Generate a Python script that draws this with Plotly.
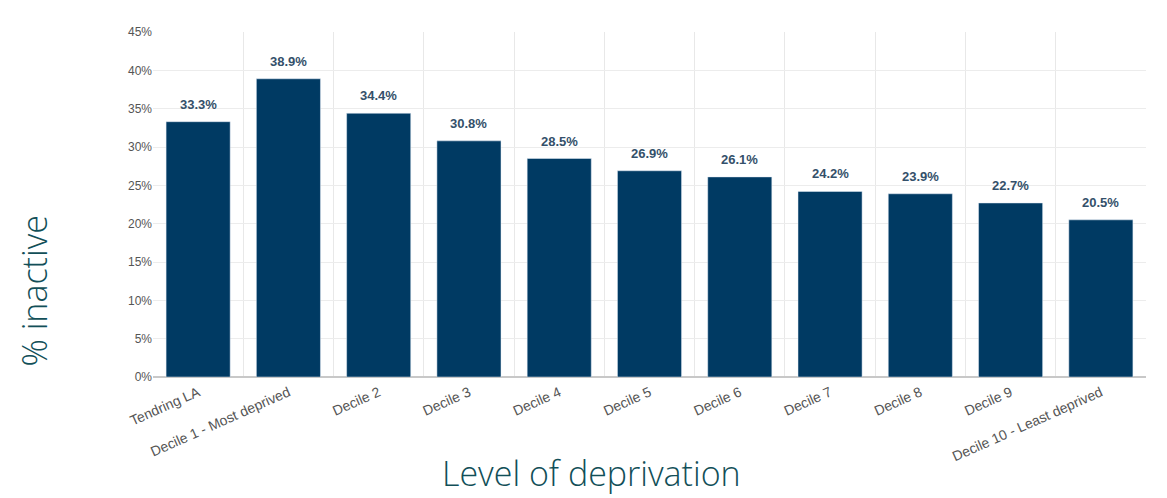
import plotly.graph_objects as go

# Economic inactivity by deprivation decile
categories = [
    "Tendring LA",
    "Decile 1 - Most deprived",
    "Decile 2",
    "Decile 3",
    "Decile 4",
    "Decile 5",
    "Decile 6",
    "Decile 7",
    "Decile 8",
    "Decile 9",
    "Decile 10 - Least deprived",
]
pct_inactive = [33.3, 38.9, 34.4, 30.8, 28.5, 26.9, 26.1, 24.2, 23.9, 22.7, 20.5]
y_ticks = [0, 5, 10, 15, 20, 25, 30, 35, 40, 45]

BAR = "#003a63"
TITLE = "#124f58"
LABEL = "#34506a"

fig = go.Figure(
    go.Bar(
        x=categories,
        y=pct_inactive,
        marker=dict(color=BAR),
        hovertemplate="%{x}: %{y:.1f}%<extra></extra>",
    )
)

# value labels sitting a little above each bar
for cat, v in zip(categories, pct_inactive):
    fig.add_annotation(
        x=cat, y=v,
        text=f"<b>{v:.1f}%</b>",
        showarrow=False,
        yanchor="bottom",
        yshift=8,
        font=dict(family="Liberation Sans, Arial", size=13, color=LABEL),
    )

fig.update_layout(
    width=1167,
    height=498,
    margin=dict(l=153, r=21, t=32, b=121),
    paper_bgcolor="white",
    plot_bgcolor="white",
    bargap=0.29,
    showlegend=False,
    font=dict(family="Liberation Sans, Arial", size=12, color="#555555"),
)

fig.update_xaxes(
    type="category",
    tickson="boundaries",
    showgrid=True,
    gridcolor="#e8e8e8",
    tickangle=-24,
    ticks="",
    ticklabelstandoff=4,
    tickfont=dict(size=14, color="#555555"),
)

fig.update_yaxes(
    range=[0, 45],
    tickvals=y_ticks,
    ticktext=[f"{t}%" for t in y_ticks],
    showgrid=True,
    gridcolor="#ececec",
    zeroline=True,
    zerolinecolor="#c8c8c8",
    tickfont=dict(size=12, color="#555555"),
    ticks="",
)

fig.add_annotation(
    text="% inactive",
    xref="paper", yref="paper",
    x=-0.12, y=0.25,
    xanchor="center", yanchor="middle",
    textangle=-90,
    showarrow=False,
    font=dict(family="Open Sans", size=34, weight=300, color=TITLE),
)
fig.add_annotation(
    text="Level of deprivation",
    xref="paper", yref="paper",
    x=0.442, y=-0.352,
    xanchor="center", yanchor="bottom",
    showarrow=False,
    font=dict(family="Open Sans", size=34, weight=300, color=TITLE),
)

fig.write_html("out.html")
